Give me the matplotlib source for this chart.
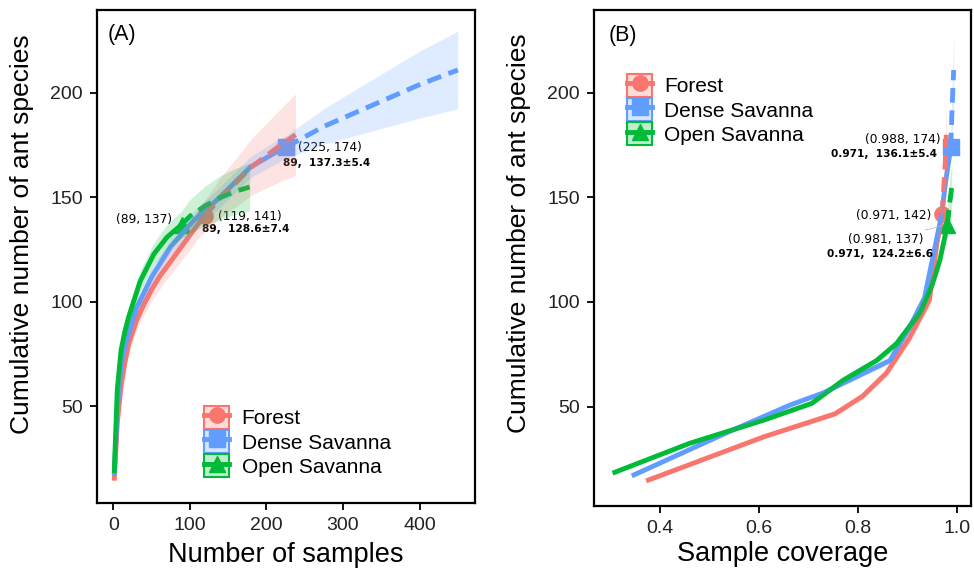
import matplotlib
matplotlib.use('Agg')
import matplotlib.pyplot as plt
from matplotlib.lines import Line2D
from matplotlib.patches import Patch
from matplotlib.colors import to_rgba

plt.rcParams['font.family'] = ['Liberation Sans', 'DejaVu Sans']

habitats = ['Forest', 'Dense Savanna', 'Open Savanna']
colors = ['#F8766D', '#619CFF', '#00BA38']
markers = ['o', 's', '^']

# (A) sample-size based curves: rarefaction (solid) and extrapolation (dashed)
forest_m_rare = [1, 5, 10, 15, 20, 30, 40, 50, 60, 70, 80, 90, 100, 110, 119]
forest_s_rare = [14.5, 42, 60, 71, 80, 91, 99, 106, 112, 117, 122, 127, 132, 137, 141]
forest_lo_rare = [14, 39.5, 57, 67.5, 76, 86.5, 94, 100.5, 106, 111, 115.5, 120.5, 125, 130, 133.5]
forest_hi_rare = [15, 44.5, 63, 74.5, 84, 95.5, 104, 111.5, 118, 123, 128.5, 133.5, 139, 144, 148.5]
forest_m_ext = [119, 140, 160, 180, 200, 220, 238]
forest_s_ext = [141, 150, 157, 164.5, 170, 175.5, 180]
forest_lo_ext = [133.5, 140.5, 145.5, 151, 154.5, 158, 160.5]
forest_hi_ext = [148.5, 159.5, 168.5, 178, 185.5, 193, 199.5]

dense_m_rare = [1, 5, 10, 15, 30, 50, 75, 105, 136, 179, 214, 225]
dense_s_rare = [16.8, 48, 70, 79, 97, 112, 126.5, 139, 149, 164.5, 172, 174]
dense_lo_rare = [16.3, 46, 67.5, 76, 93.5, 108, 122.5, 134.5, 144, 159.5, 166.5, 168.5]
dense_hi_rare = [17.3, 50, 72.5, 82, 100.5, 116, 130.5, 143.5, 154, 169.5, 177.5, 179.5]
dense_m_ext = [225, 250, 275, 300, 350, 400, 450]
dense_s_ext = [174, 179, 184, 188, 196, 204, 211]
dense_lo_ext = [168.5, 172, 175.5, 178, 183, 188, 192.5]
dense_hi_ext = [179.5, 186, 192.5, 198, 209, 220, 229.5]

open_m_rare = [1, 5, 10, 15, 20, 35, 53, 70, 89]
open_s_rare = [18.1, 58, 77, 86, 93, 110, 123, 131, 137]
open_lo_rare = [17.6, 55, 73.5, 82, 88.5, 105, 117.5, 125, 130.5]
open_hi_rare = [18.6, 61, 80.5, 90, 97.5, 115, 128.5, 137, 143.5]
open_m_ext = [89, 100, 120, 140, 160, 178]
open_s_ext = [137, 141, 146, 150, 153, 155]
open_lo_ext = [130.5, 133, 136.5, 139.5, 142, 143.5]
open_hi_ext = [143.5, 149, 155.5, 160.5, 164, 166.5]

# (B) coverage based curves
forest_c_rare = [0.372, 0.61, 0.754, 0.81, 0.858, 0.905, 0.945, 0.96, 0.971]
forest_cs_rare = [14.4, 35.5, 46.5, 55, 66, 83, 101, 128, 142]
forest_clo_rare = [14.1, 34.7, 45.3, 53.5, 64, 80.5, 98, 124, 137]
forest_chi_rare = [14.7, 36.3, 47.7, 56.5, 68, 85.5, 104, 132, 147]
forest_c_ext = [0.971, 0.974, 0.977, 0.979]
forest_cs_ext = [142, 155, 167, 180]
forest_clo_ext = [137, 147, 154, 160.5]
forest_chi_ext = [147, 163, 180, 199.5]

dense_c_rare = [0.343, 0.54, 0.663, 0.73, 0.865, 0.905, 0.935, 0.948, 0.969, 0.978, 0.988]
dense_cs_rare = [16.8, 38, 50.7, 56.5, 72, 88, 102, 117, 141, 158, 174]
dense_clo_rare = [16.5, 37.3, 49.8, 55.5, 70.5, 86, 99.5, 114, 137, 153, 168.5]
dense_chi_rare = [17.1, 38.7, 51.6, 57.5, 73.5, 90, 104.5, 120, 145, 163, 179.5]
dense_c_ext = [0.988, 0.990, 0.992, 0.994]
dense_cs_ext = [174, 188, 200, 211]
dense_clo_ext = [168.5, 177, 185, 192.5]
dense_chi_ext = [179.5, 199, 214, 229.5]

open_c_rare = [0.304, 0.46, 0.61, 0.707, 0.77, 0.838, 0.878, 0.926, 0.95, 0.966, 0.975, 0.981]
open_cs_rare = [18.1, 32.4, 43.5, 51.5, 62.5, 72, 80, 95, 108, 120, 130, 137]
open_clo_rare = [17.8, 31.8, 42.7, 50.5, 61, 70.5, 78, 92.5, 105, 116.5, 126, 130.5]
open_chi_rare = [18.4, 33, 44.3, 52.5, 64, 73.5, 82, 97.5, 111, 123.5, 134, 143.5]
open_c_ext = [0.981, 0.985, 0.988, 0.990]
open_cs_ext = [137, 146, 151, 155]
open_clo_ext = [130.5, 135, 139, 143.5]
open_chi_ext = [143.5, 157, 163, 166.5]

# observed points
obs_m = [119, 225, 89]
obs_s = [141, 174, 137]
obs_c = [0.971, 0.988, 0.981]
obs_cs = [142, 174, 137]

curvesA = [
    (forest_m_rare, forest_s_rare, forest_lo_rare, forest_hi_rare,
     forest_m_ext, forest_s_ext, forest_lo_ext, forest_hi_ext),
    (dense_m_rare, dense_s_rare, dense_lo_rare, dense_hi_rare,
     dense_m_ext, dense_s_ext, dense_lo_ext, dense_hi_ext),
    (open_m_rare, open_s_rare, open_lo_rare, open_hi_rare,
     open_m_ext, open_s_ext, open_lo_ext, open_hi_ext),
]
curvesB = [
    (forest_c_rare, forest_cs_rare, forest_clo_rare, forest_chi_rare,
     forest_c_ext, forest_cs_ext, forest_clo_ext, forest_chi_ext),
    (dense_c_rare, dense_cs_rare, dense_clo_rare, dense_chi_rare,
     dense_c_ext, dense_cs_ext, dense_clo_ext, dense_chi_ext),
    (open_c_rare, open_cs_rare, open_clo_rare, open_chi_rare,
     open_c_ext, open_cs_ext, open_clo_ext, open_chi_ext),
]

fig = plt.figure(figsize=(9.74, 5.68), dpi=100)
axA = fig.add_axes([97/974, 1 - 503/568, 378/974, 493/568])
axB = fig.add_axes([594/974, 1 - 506/568, 377/974, 496/568])

LW = 3.5
def draw(ax, curves, px, py):
    # points first, then lines, ribbons on top (as iNEXT/ggplot does)
    for i, c in enumerate(curves):
        ax.plot(px[i], py[i], marker=markers[i], color=colors[i], ms=11,
                ls='none', zorder=2)
    for i, c in enumerate(curves):
        ax.plot(c[0], c[1], color=colors[i], lw=LW, zorder=3,
                solid_capstyle='butt')
    for i, c in enumerate(curves):
        ax.plot(c[4], c[5], color=colors[i], lw=LW, zorder=3,
                dashes=(3, 1.6))
    for i, c in enumerate(curves):
        ax.fill_between(c[0], c[2], c[3], color=colors[i], alpha=0.2, lw=0, zorder=4)
        ax.fill_between(c[4], c[6], c[7], color=colors[i], alpha=0.2, lw=0, zorder=4)

draw(axA, curvesA, obs_m, obs_s)
draw(axB, curvesB, obs_c, obs_cs)

axA.set_xlim(-21.5, 472.5)
axA.set_ylim(3.8, 239.7)
axA.set_xticks([0, 100, 200, 300, 400])
axB.set_xlim(0.2665, 1.029)
axB.set_ylim(2.4, 239.7)
axB.set_xticks([0.4, 0.6, 0.8, 1.0])
axB.set_xticklabels(['0.4', '0.6', '0.8', '1.0'])

for ax in (axA, axB):
    ax.set_yticks([50, 100, 150, 200])
    for s in ax.spines.values():
        s.set_linewidth(1.6)
        s.set_color('black')
    ax.tick_params(axis='both', direction='out', length=5, width=1.3, pad=5,
                   labelsize=14, labelcolor='#222222', color='black')
    ax.set_ylabel('Cumulative number of ant species', fontsize=19)

axA.yaxis.set_label_coords(-0.167, 0.546)
axB.yaxis.set_label_coords(-0.167, 0.55)
axA.set_xlabel('Number of samples', fontsize=19.5, labelpad=6)
axB.set_xlabel('Sample coverage', fontsize=19.5, labelpad=3)

axA.text(0.027, 0.95, '(A)', transform=axA.transAxes, fontsize=15.5, va='center', ha='left')
axB.text(0.038, 0.948, '(B)', transform=axB.transAxes, fontsize=15.5, va='center', ha='left')

ann = dict(textcoords='offset pixels', family='DejaVu Sans', va='center')
nfs, bfs = 8.8, 7.6
# panel A labels
axA.annotate('(225, 174)', xy=(225, 174), xytext=(12, 0), fontsize=nfs, ha='left', **ann)
axA.annotate('89,  137.3±5.4', xy=(225, 174), xytext=(-2.5, -16), fontsize=bfs,
             fontweight='bold', ha='left', **ann)
axA.annotate('(119, 141)', xy=(119, 141), xytext=(13, 0), fontsize=nfs, ha='left', **ann)
axA.annotate('89,  128.6±7.4', xy=(119, 141), xytext=(-2.5, -13), fontsize=bfs,
             fontweight='bold', ha='left', **ann)
axA.annotate('(89, 137)', xy=(89, 137), xytext=(-9.6, 4.7), fontsize=nfs, ha='right', **ann)
# panel B labels
axB.annotate('(0.988, 174)', xy=(0.988, 174), xytext=(-10, 8), fontsize=nfs, ha='right', **ann)
axB.annotate('0.971,  136.1±5.4', xy=(0.988, 174), xytext=(-14, -7), fontsize=bfs,
             fontweight='bold', ha='right', **ann)
axB.annotate('(0.971, 142)', xy=(0.971, 142), xytext=(-10.7, -1.4), fontsize=nfs, ha='right', **ann)
axB.annotate('(0.981, 137)', xy=(0.981, 137), xytext=(-24, -15), fontsize=nfs, ha='right',
             arrowprops=dict(arrowstyle='-', color='#BBBBBB', lw=0.6, shrinkA=1, shrinkB=4), **ann)
axB.annotate('0.971,  124.2±6.6', xy=(0.981, 137), xytext=(-14.6, -29), fontsize=bfs,
             fontweight='bold', ha='right', **ann)

def legend(ax, anchor):
    handles = []
    for c, m in zip(colors, markers):
        handles.append((Patch(facecolor=to_rgba(c, 0.25), edgecolor=c, lw=1.5),
                        Line2D([], [], color=c, lw=LW, marker=m, ms=11)))
    ax.legend(handles, habitats, loc='upper left', bbox_to_anchor=anchor,
              frameon=False, fontsize=15, handlelength=1.2, handleheight=1.32,
              labelspacing=0.06, handletextpad=0.6, borderpad=0, borderaxespad=0)

legend(axA, ((204 - 97) / 378, (503 - 406) / 493))
legend(axB, ((627 - 594) / 377, (506 - 74) / 496))

fig.savefig('out.png', dpi=100)
